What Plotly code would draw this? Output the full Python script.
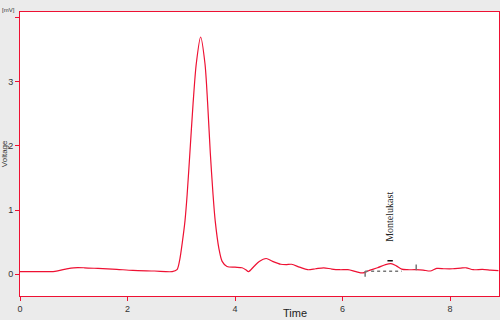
import plotly.graph_objects as go

time = [0, 0.3, 0.65, 0.85, 1.0, 1.2, 1.45, 1.8, 2.1, 2.5, 2.83, 2.92, 2.97, 3.02, 3.07, 3.11,
        3.16, 3.22, 3.28, 3.36, 3.44, 3.49, 3.54, 3.59, 3.63, 3.70, 3.76, 3.85, 4.0, 4.13, 4.2,
        4.25, 4.35, 4.45, 4.58, 4.7, 4.85, 4.95, 5.05, 5.2, 5.35, 5.5, 5.65, 5.8, 5.95, 6.1,
        6.25, 6.38, 6.5, 6.65, 6.8, 6.9, 7.0, 7.1, 7.2, 7.35, 7.5, 7.63, 7.75, 7.9, 8.05, 8.2,
        8.3, 8.43, 8.6, 8.75, 8.9]
voltage = [0.04, 0.04, 0.045, 0.08, 0.10, 0.10, 0.09, 0.075, 0.06, 0.05, 0.04, 0.07, 0.22, 0.50,
           0.84, 1.25, 1.89, 2.67, 3.29, 3.70, 3.29, 2.67, 1.89, 1.25, 0.84, 0.40, 0.20, 0.12,
           0.11, 0.10, 0.07, 0.04, 0.12, 0.20, 0.245, 0.20, 0.155, 0.15, 0.155, 0.11, 0.07, 0.085,
           0.10, 0.08, 0.07, 0.07, 0.04, 0.02, 0.06, 0.10, 0.15, 0.165, 0.13, 0.08, 0.07, 0.07,
           0.065, 0.05, 0.09, 0.085, 0.085, 0.095, 0.10, 0.07, 0.075, 0.065, 0.055]

peak_name = "Montelukast"
peak_apex = [6.885, 0.21]
peak_baseline_x = [6.42, 7.10]
peak_baseline_y = [0.047, 0.047]
peak_start = [6.42, 0.05, -0.04]
peak_end = [7.37, 0.15, 0.06]

x_ticks = [0, 2, 4, 6, 8]
y_ticks = [0, 1, 2, 3, 4]
y_ticktext = ["0", "1", "2", "3", ""]

red = "#ee1133"

fig = go.Figure()
fig.add_trace(go.Scatter(x=time, y=voltage, mode="lines",
                         line=dict(color=red, width=1.2, shape="spline", smoothing=0.8),
                         hoverinfo="skip", showlegend=False))
fig.add_trace(go.Scatter(x=peak_baseline_x, y=peak_baseline_y, mode="lines",
                         line=dict(color="#777777", width=1.5, dash="dot"),
                         showlegend=False))
fig.add_trace(go.Scatter(x=[peak_start[0], peak_start[0]], y=peak_start[1:], mode="lines",
                         line=dict(color="#777777", width=1.5), showlegend=False))
fig.add_trace(go.Scatter(x=[peak_end[0], peak_end[0]], y=peak_end[1:], mode="lines",
                         line=dict(color="#777777", width=1.5), showlegend=False))
fig.add_trace(go.Scatter(x=[peak_apex[0] - 0.05, peak_apex[0] + 0.05], y=[peak_apex[1]] * 2,
                         mode="lines", line=dict(color="#111111", width=1.5), showlegend=False))

fig.add_annotation(x=6.87, y=0.90, text=peak_name, textangle=-90, showarrow=False,
                   xanchor="center", yanchor="middle",
                   font=dict(family="Liberation Serif", size=10, color="#222222"))

fig.add_annotation(xref="paper", yref="paper", x=0.574, y=-0.06, text="Time", showarrow=False,
                   xanchor="center", yanchor="middle",
                   font=dict(family="Liberation Sans", size=11, color="#222222"))
fig.add_annotation(xref="paper", yref="paper", x=-0.033, y=0.50, text="Voltage", textangle=-90,
                   showarrow=False, xanchor="center", yanchor="middle",
                   font=dict(family="Liberation Sans", size=8, color="#333333"))
fig.add_annotation(xref="paper", yref="paper", x=-0.023, y=1.007, text="[mV]", showarrow=False,
                   xanchor="center", yanchor="middle",
                   font=dict(family="Liberation Sans", size=6, color="#333333"))

axis_common = dict(showline=True, linecolor=red, linewidth=1, mirror=True, showgrid=False,
                   zeroline=False, ticks="outside", tickcolor=red, ticklen=4, tickwidth=1,
                   automargin=False,
                   tickfont=dict(family="Liberation Sans", size=9, color="#333333"))
fig.update_xaxes(range=[0, 8.91], tickvals=x_ticks, **axis_common)
fig.update_yaxes(range=[-0.34, 4.09], tickvals=y_ticks, ticktext=y_ticktext, **axis_common)

fig.update_layout(width=500, height=320, margin=dict(l=20, r=1, t=12, b=24),
                  paper_bgcolor="#ebebeb", plot_bgcolor="white", showlegend=False)
fig.write_html("out.html", config={"responsive": False, "displayModeBar": False},
               post_script="document.body.style.margin='0';document.body.style.padding='0';"
                           "document.body.style.overflow='hidden';")
